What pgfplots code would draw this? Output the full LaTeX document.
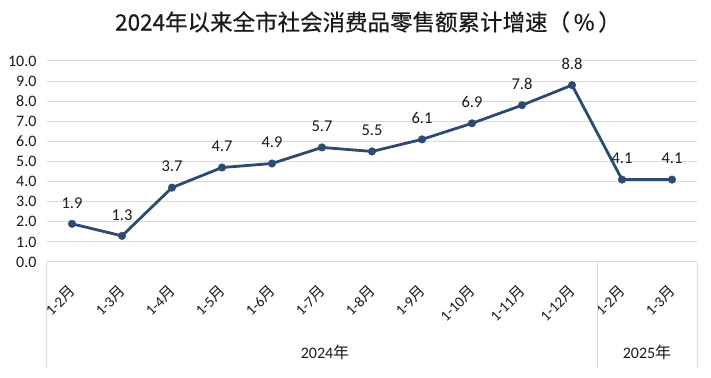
\documentclass[border=0pt]{standalone}
\usepackage{pgfplots}
\pgfplotsset{compat=1.18}
\usepackage{fontspec}
\setmainfont{Carlito}
\newfontfamily\cjk{Noto Sans CJK SC}
\newfontfamily\cjkt[FakeBold=0.4]{Noto Sans CJK SC}
\definecolor{lineblue}{RGB}{45,74,112}
\definecolor{gridgray}{RGB}{217,217,217}
\begin{document}
\begin{tikzpicture}
\path[use as bounding box] (0,0) rectangle (711pt,377pt);
\node[font=\cjkt\fontsize{22.5}{22.5}\selectfont, text=black!90] at (368pt,355pt) {2024年以来全市社会消费品零售额累计增速（\,\%\,）};
\begin{axis}[
  at={(47pt,115pt)}, anchor=south west,
  scale only axis, width=650pt, height=201pt,
  xmin=-0.5, xmax=12.5, ymin=0, ymax=10,
  /pgf/number format/assume math mode=true,
  ytick={0,1,...,10},
  yticklabel style={/pgf/number format/fixed, /pgf/number format/fixed zerofill, /pgf/number format/precision=1, font=\fontsize{16}{16}\selectfont, text=black!90, xshift=-7pt},
  ymajorgrids, grid style={gridgray, line width=1pt},
  axis line style={draw=none},
  major tick length=0pt,
  xtick={0,...,12},
  xticklabels={{1-2{\cjk 月}},{1-3{\cjk 月}},{1-4{\cjk 月}},{1-5{\cjk 月}},{1-6{\cjk 月}},{1-7{\cjk 月}},{1-8{\cjk 月}},{1-9{\cjk 月}},{1-10{\cjk 月}},{1-11{\cjk 月}},{1-12{\cjk 月}},{1-2{\cjk 月}},{1-3{\cjk 月}}},
  xticklabel style={yshift=-24pt, xshift=3pt, rotate=45, anchor=east, font=\fontsize{15}{15}\selectfont, text=black!90},
  clip=false,
  nodes near coords={\pgfmathprintnumber[fixed,fixed zerofill,precision=1]{\pgfplotspointmeta}},
  nodes near coords style={anchor=south, yshift=12pt, font=\fontsize{16.5}{16.5}\selectfont, text=black!90},
]
\addplot[lineblue, line width=2.8pt, mark=*, mark size=3.8pt, mark options={fill=lineblue, draw=lineblue, line width=0.4pt}] coordinates {
(0,1.9) (1,1.3) (2,3.7) (3,4.7) (4,4.9) (5,5.7) (6,5.5) (7,6.1) (8,6.9) (9,7.8) (10,8.8) (11,4.1) (12,4.1)
};
\draw[gridgray, line width=1pt] (axis cs:-0.5,0) -- ++(0pt,-106pt);
\draw[gridgray, line width=1pt] (axis cs:10.5,0) -- ++(0pt,-106pt);
\draw[gridgray, line width=1pt] (axis cs:12.5,0) -- ++(0pt,-106pt);
\node[font=\fontsize{16}{16}\selectfont, text=black!90] at (axis cs:5.06,0) [yshift=-90pt] {2024{\cjk 年}};
\node[font=\fontsize{16}{16}\selectfont, text=black!90] at (axis cs:11.5,0) [yshift=-90pt] {2025{\cjk 年}};
\end{axis}
\end{tikzpicture}
\end{document}
